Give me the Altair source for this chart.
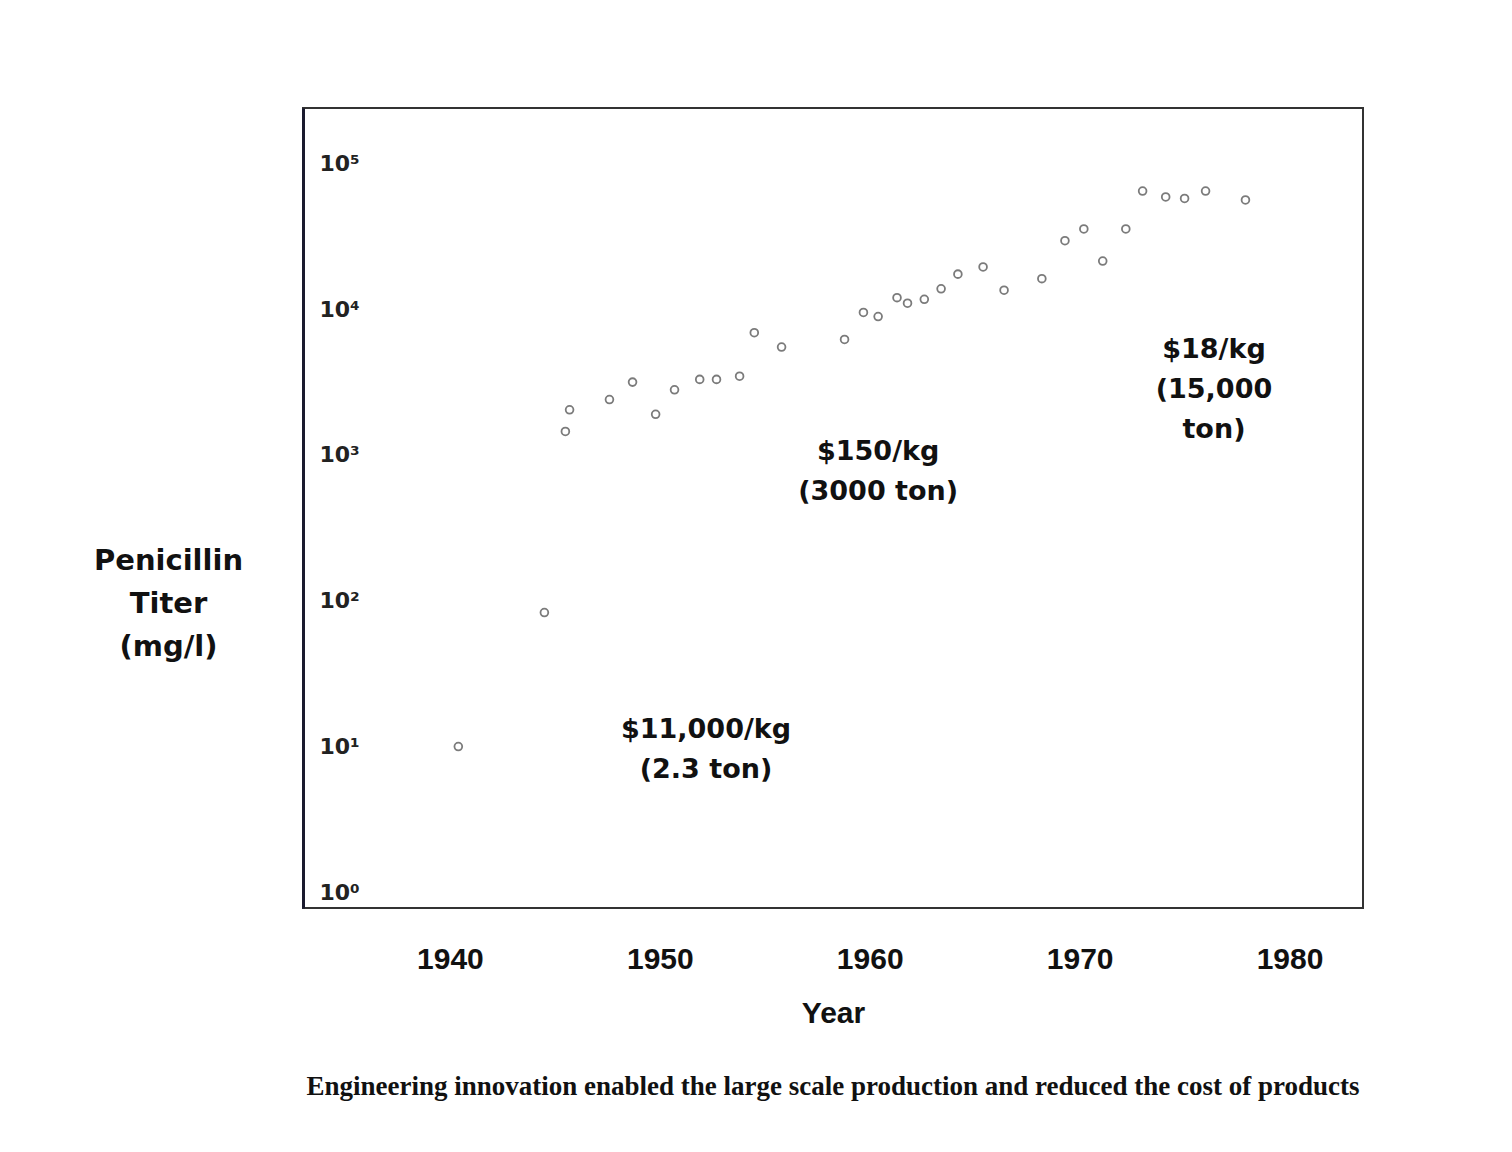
import altair as alt
import pandas as pd

# Penicillin titer data
years = [1940.4, 1944.5, 1945.5, 1945.7, 1947.6, 1948.7, 1949.8, 1950.7, 1951.9, 1952.7,
         1953.8, 1954.5, 1955.8, 1958.8, 1959.7, 1960.4, 1961.3, 1961.8, 1962.6, 1963.4,
         1964.2, 1965.4, 1966.4, 1968.2, 1969.3, 1970.2, 1971.1, 1972.2, 1973.0, 1974.1,
         1975.0, 1976.0, 1977.9]
titers = [10, 83, 1450, 2040, 2400, 3160, 1900, 2800, 3300, 3300,
          3470, 6900, 5500, 6200, 9500, 8900, 12000, 11000, 11700, 13800,
          17400, 19500, 13500, 16200, 29500, 35500, 21400, 35500, 64600, 58900,
          57500, 64600, 56200]

# Cost annotations
ann_years = [1952.2, 1960.4, 1976.4]
ann_titers = [13, 1050, 5250]
ann_texts = ["$11,000/kg\n(2.3 ton)", "$150/kg\n(3000 ton)", "$18/kg\n(15,000\nton)"]

x_ticks = [1940, 1950, 1960, 1970, 1980]
y_ticks = [1, 10, 100, 1000, 10000, 100000]

caption = "Engineering innovation enabled the large scale production and reduced the cost of products"

pts = pd.DataFrame({"Year": years, "Titer": titers})
ann = pd.DataFrame({"Year": ann_years, "Titer": ann_titers, "Label": ann_texts})

x_enc = alt.X(
    "Year:Q",
    scale=alt.Scale(domain=[1933, 1983.5], nice=False, zero=False),
    axis=alt.Axis(
        values=x_ticks, format="d", ticks=False, domain=False, grid=False,
        labelFont="Liberation Sans", labelFontSize=30, labelFontWeight="bold",
        labelColor="#111", labelPadding=36,
        title="Year", titleFont="Liberation Sans", titleFontSize=30,
        titleFontWeight="bold", titleColor="#111", titlePadding=24,
    ),
)
y_enc = alt.Y(
    "Titer:Q",
    scale=alt.Scale(type="log", domain=[0.78, 240000], nice=False),
    axis=alt.Axis(
        values=y_ticks, ticks=False, grid=False,
        domainColor="#1a1a2e", domainWidth=3,
        labelExpr="'10' + ['⁰','¹','²','³','⁴','⁵'][round(log(datum.value)/LN10)]",
        labelAlign="left", labelPadding=-16, labelFont="DejaVu Sans",
        labelFontSize=22, labelFontWeight="bold", labelColor="#222",
        title=["Penicillin", "Titer", "(mg/l)"], titleAngle=0,
        titleAlign="center", titleBaseline="middle", titleX=-135, titleY=452,
        titleFont="DejaVu Sans", titleFontSize=29, titleFontWeight="bold",
        titleColor="#111", titleLineHeight=43,
    ),
)

points = alt.Chart(pts).mark_point(
    filled=False, size=60, strokeWidth=1.8, color="#444"
).encode(x=x_enc, y=y_enc)

labels = alt.Chart(ann).mark_text(
    font="DejaVu Sans", fontSize=27, fontWeight="bold", color="#111",
    lineBreak="\n", lineHeight=40, align="center", baseline="middle",
).encode(x="Year:Q", y="Titer:Q", text="Label:N")

chart = alt.layer(points, labels).properties(
    width=1060,
    height=800,
    padding={"left": 85, "top": 100, "right": 20, "bottom": 20},
    title=alt.TitleParams(
        text=caption, orient="bottom", anchor="middle", font="Liberation Serif",
        fontSize=27, fontWeight="bold", color="#111", offset=46,
    ),
    background="white",
).configure_view(stroke="#333", strokeWidth=2)

chart.save("out.html", embed_options={"renderer": "svg", "actions": False})
